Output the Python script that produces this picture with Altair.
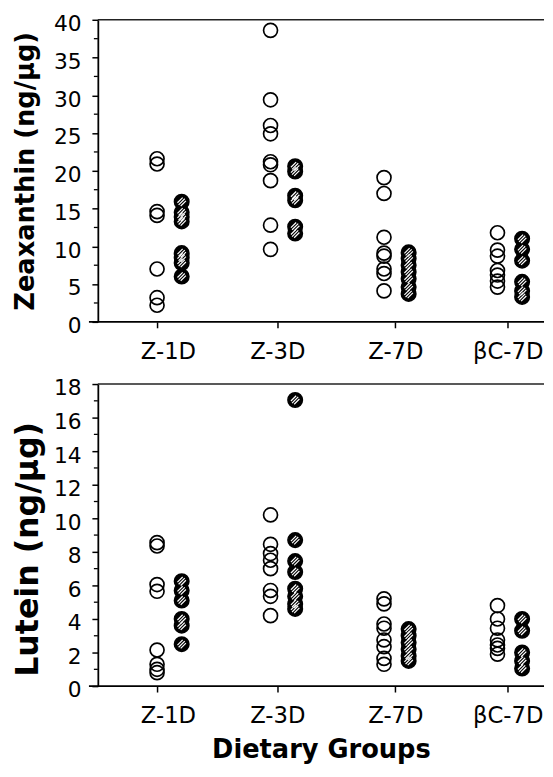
import altair as alt
import pandas as pd

GROUPS = ["Z-1D", "Z-3D", "Z-7D", "βC-7D"]

# Zeaxanthin (ng/µg) - open circles / hatched circles per dietary group
ZEA_OPEN_Z1D = [21.6, 20.9, 14.6, 14.1, 7.0, 3.2, 2.2]
ZEA_OPEN_Z3D = [38.6, 29.4, 26.0, 24.9, 21.2, 20.8, 18.7, 12.8, 9.6]
ZEA_OPEN_Z7D = [19.1, 17.0, 11.2, 9.1, 8.7, 7.0, 6.4, 4.1]
ZEA_OPEN_BC7D = [11.8, 9.5, 8.7, 6.8, 6.2, 5.4, 4.6]
ZEA_HATCH_Z1D = [15.9, 14.5, 13.9, 13.3, 9.1, 8.5, 7.8, 6.0]
ZEA_HATCH_Z3D = [20.6, 19.9, 16.7, 16.1, 12.6, 11.7]
ZEA_HATCH_Z7D = [9.2, 8.4, 7.5, 6.6, 5.7, 4.6, 3.7]
ZEA_HATCH_BC7D = [11.0, 9.6, 8.1, 5.3, 4.1, 3.3]

# Lutein (ng/µg)
LUT_OPEN_Z1D = [8.55, 8.35, 6.05, 5.65, 2.15, 1.3, 1.0, 0.8]
LUT_OPEN_Z3D = [10.2, 8.45, 7.9, 7.5, 7.0, 5.7, 5.35, 4.2]
LUT_OPEN_Z7D = [5.2, 4.9, 3.7, 3.45, 2.75, 2.35, 1.65, 1.3]
LUT_OPEN_BC7D = [4.8, 4.0, 3.45, 2.75, 2.45, 2.25, 1.9]
LUT_HATCH_Z1D = [6.25, 5.7, 5.1, 4.0, 3.6, 2.5]
LUT_HATCH_Z3D = [17.05, 8.7, 7.45, 6.8, 5.8, 5.35, 4.9, 4.6]
LUT_HATCH_Z7D = [3.4, 3.0, 2.6, 2.2, 1.8, 1.5]
LUT_HATCH_BC7D = [4.0, 3.3, 2.0, 1.5, 1.05]

ZEA_TICKS = [0, 5, 10, 15, 20, 25, 30, 35, 40]
ZEA_MINOR = [2.5, 7.5, 12.5, 17.5, 22.5, 27.5, 32.5, 37.5]
LUT_TICKS = [0, 2, 4, 6, 8, 10, 12, 14, 16, 18]
LUT_MINOR = [1, 3, 5, 7, 9, 11, 13, 15, 17]

# ---- layout / style constants ----
W = 452
H_TOP = 306
H_BOT = 306
X_LO, X_HI = 0.478, 4.41
TICK_POS = [1.0, 2.06, 3.10, 4.09]
SERIES_OFFSET = {"open": 0.0, "hatched": 0.217}
FONT = "DejaVu Sans"

LABEL_EXPR = "[" + ",".join("'%s'" % g for g in GROUPS) + "][round(datum.value) - 1]"

STRIPES = ("M-0.585,0.135L0.135,-0.585"
           "M-0.424,0.424L0.424,-0.424"
           "M-0.135,0.585L0.585,-0.135")


def build_df(open_lists, hatch_lists):
    rows = []
    for i, g in enumerate(GROUPS):
        for v in open_lists[i]:
            rows.append({"group": g, "series": "open", "value": v,
                         "xpos": i + 1 + SERIES_OFFSET["open"]})
        for v in hatch_lists[i]:
            rows.append({"group": g, "series": "hatched", "value": v,
                         "xpos": i + 1 + SERIES_OFFSET["hatched"]})
    return pd.DataFrame(rows)


zea_df = build_df([ZEA_OPEN_Z1D, ZEA_OPEN_Z3D, ZEA_OPEN_Z7D, ZEA_OPEN_BC7D],
                  [ZEA_HATCH_Z1D, ZEA_HATCH_Z3D, ZEA_HATCH_Z7D, ZEA_HATCH_BC7D])
lut_df = build_df([LUT_OPEN_Z1D, LUT_OPEN_Z3D, LUT_OPEN_Z7D, LUT_OPEN_BC7D],
                  [LUT_HATCH_Z1D, LUT_HATCH_Z3D, LUT_HATCH_Z7D, LUT_HATCH_BC7D])


def panel(df, ymax, ticks, minor, ytitle, ytitle_size, ytitle_pad, ytitle_shift,
          height, xtitle):
    xaxis_kw = dict(values=TICK_POS, labelExpr=LABEL_EXPR, domain=False,
                    ticks=True, tickSize=6, tickWidth=1.5, tickColor="black",
                    labelFont=FONT, labelFontSize=23, labelColor="black",
                    labelPadding=13, labelOverlap=False, grid=False,
                    labelOffset={"condition": {"test": "datum.value < 1.5", "value": 11},
                                 "value": 0})
    if xtitle:
        xaxis_kw.update(title=xtitle, titleFont=FONT, titleFontSize=26,
                        titleFontWeight="bold", titleColor="black", titlePadding=9)
    else:
        xaxis_kw.update(title=None)
    x = alt.X("xpos:Q", scale=alt.Scale(domain=[X_LO, X_HI], nice=False, zero=False),
              axis=alt.Axis(**xaxis_kw))
    y = alt.Y("value:Q", scale=alt.Scale(domain=[0, ymax], nice=False),
              axis=alt.Axis(values=ticks, title=ytitle, domain=True, domainColor="black",
                            domainWidth=1.8, ticks=True, tickSize=6, tickWidth=1.5,
                            tickColor="black", labelFont=FONT, labelFontSize=22,
                            labelColor="black", labelPadding=11, labelOffset=4,
                            labelOverlap=False, labelBound=False,
                            titleFont=FONT, titleFontSize=ytitle_size,
                            titleFontWeight="bold", titleY=height / 2 + ytitle_shift,
                            titleColor="black", titlePadding=ytitle_pad, grid=False))

    base = alt.Chart(df)
    open_pts = base.transform_filter(alt.datum.series == "open").mark_point(
        shape="circle", filled=False, size=200, stroke="black",
        strokeWidth=1.7, opacity=1).encode(x=x, y=y)
    hatch_fill = base.transform_filter(alt.datum.series == "hatched").mark_point(
        shape="circle", filled=True, size=215, fill="#000000", stroke="black",
        strokeWidth=1.6, opacity=1).encode(x=x, y=y)
    hatch_lines = base.transform_filter(alt.datum.series == "hatched").mark_point(
        shape=STRIPES, filled=False, size=215, stroke="white",
        strokeWidth=1.2, opacity=1).encode(x=x, y=y)

    minor_df = pd.DataFrame({"value": minor})
    minor_ticks = alt.Chart(minor_df).mark_rule(color="black", strokeWidth=1.3).encode(
        y=y, x=alt.value(-4), x2=alt.value(0))

    frame = alt.Data(values=[{"k": 0}])
    top_line = alt.Chart(frame).mark_rule(color="#222222", strokeWidth=1.4).encode(
        y=alt.value(0), x=alt.value(0), x2=alt.value(W))
    bottom_line = alt.Chart(frame).mark_rule(color="black", strokeWidth=1.7).encode(
        y=alt.value(height), x=alt.value(-9), x2=alt.value(W))

    return alt.layer(open_pts, hatch_fill, hatch_lines, minor_ticks, top_line,
                     bottom_line).properties(width=W, height=height)


top = panel(zea_df, 40, ZEA_TICKS, ZEA_MINOR, "Zeaxanthin (ng/µg)", 26, 15, 0,
            H_TOP, None)
bottom = panel(lut_df, 18, LUT_TICKS, LUT_MINOR, "Lutein (ng/µg)", 32, 9, 14,
               H_BOT, "Dietary Groups")

chart = alt.vconcat(top, bottom, spacing=63, bounds="flush").properties(
    padding={"left": 4, "top": 0, "right": 0, "bottom": 0},
    background="white",
).configure_view(stroke=None)

chart.save("out.html", embed_options={"renderer": "svg", "actions": False})
